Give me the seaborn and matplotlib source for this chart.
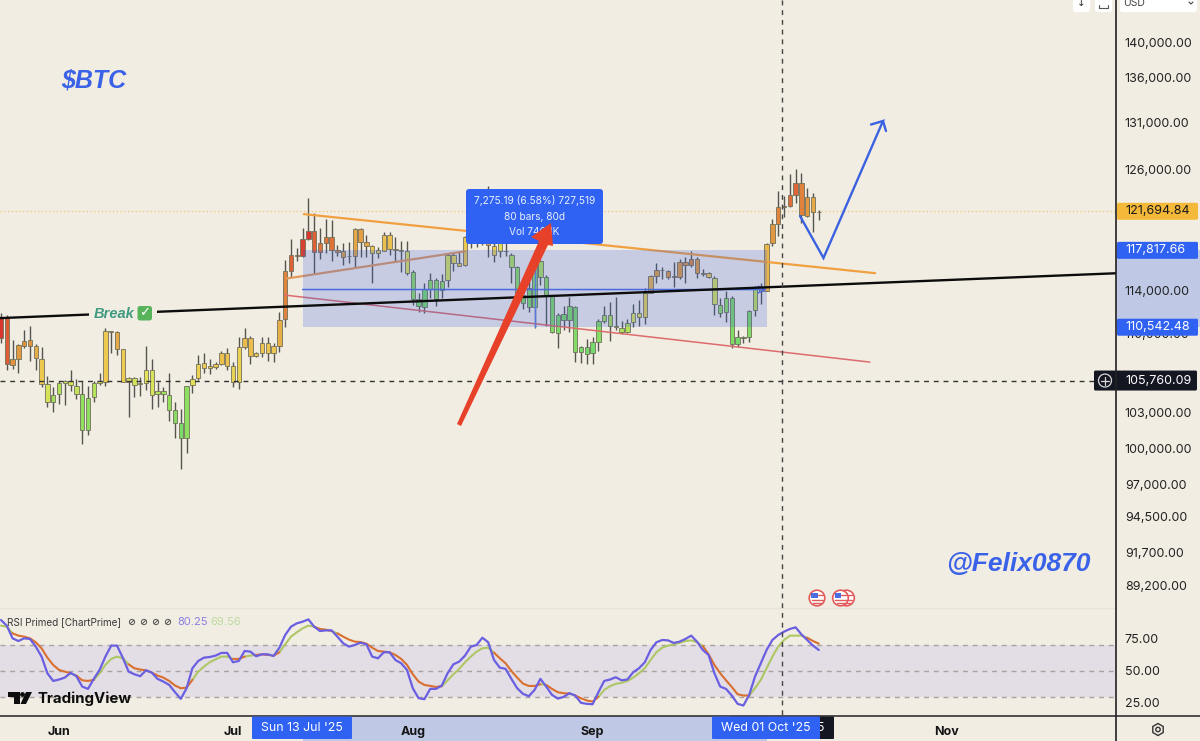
import numpy as np
import pandas as pd
import seaborn as sns
import matplotlib
matplotlib.use('Agg')
import matplotlib.pyplot as plt
from matplotlib.colors import LinearSegmentedColormap
from matplotlib.patches import Rectangle, FancyBboxPatch, Polygon, Circle, RegularPolygon
from matplotlib.ticker import NullFormatter

START_DATE = '2025-05-22'
wick_high = [
    111810, 111660, 109370, 109010, 110280, 110650, 109040, 108770, 106150, 105220,
    105740, 105800, 106680, 105860, 105740, 105280, 105740, 106390, 110430, 110190,
    110160, 108530, 106040, 106090, 106090, 108830, 107630, 105650, 105160, 106390,
    103890, 103260, 105310, 106210, 108020, 108170, 107630, 107420, 108410, 108620,
    107420, 109670, 110460, 109730, 108290, 109610, 109610, 109070, 111930, 116870,
    118980, 118000, 119980, 123030, 121480, 119980, 120880, 120810, 118330, 118490,
    118650, 119980, 119980, 119320, 118330, 118170, 119650, 119650, 119150, 118750,
    118750, 115960, 113690, 114690, 115580, 115110, 115520, 117520, 117680, 117680,
    119220, 120140, 121480, 122470, 124230, 119150, 120140, 119810, 117580, 116290,
    114320, 115110, 117680, 116870, 115430, 113530, 111820, 112490, 113370, 112490,
    108830, 109430, 109670, 111260, 112500, 112900, 113310, 111080, 111260, 112670,
    113060, 114160, 115390, 116550, 116160, 115960, 116680, 116940, 117130, 117770,
    117130, 116030, 115740, 115330, 113220, 113940, 113440, 110280, 109730, 112120,
    114430, 114700, 118490, 120880, 123790, 123240, 125470, 126040, 125580, 124030,
    123520, 121810,
]
body_high = [
    111510, 111510, 107630, 108890, 109310, 109340, 108830, 107660, 105450, 104500,
    105570, 105740, 105740, 105250, 104550, 104260, 105540, 105680, 110160, 110160,
    110100, 108530, 105950, 105970, 105510, 106680, 106680, 104820, 104820, 104520,
    103200, 102070, 105310, 105920, 107240, 107270, 107010, 107180, 108230, 108230,
    107040, 108770, 109520, 109520, 108200, 109070, 109070, 108830, 111200, 115810,
    117350, 117380, 118890, 119680, 119680, 118490, 119120, 119120, 117900, 117710,
    117290, 119910, 119910, 118620, 118230, 117810, 119320, 119320, 117940, 117840,
    117710, 115680, 113120, 114060, 114950, 114950, 114890, 117350, 117320, 116550,
    119150, 119810, 120480, 121140, 120650, 118230, 118490, 117780, 117320, 116160,
    113530, 114160, 116710, 116770, 115270, 113440, 111670, 111730, 112460, 112430,
    108710, 108710, 109160, 111110, 111630, 111660, 110680, 110490, 110950, 111870,
    111870, 113690, 115330, 115900, 115960, 115840, 115330, 116680, 116680, 116940,
    116940, 115580, 115580, 115170, 112560, 113220, 113220, 109610, 109640, 112060,
    114310, 114320, 118460, 120410, 122080, 122220, 123300, 124550, 124550, 123170,
    123170, 121640,
]
body_low = [
    109580, 107220, 107150, 107630, 108860, 108830, 107720, 105480, 103920, 103920,
    104550, 105570, 105340, 104550, 101500, 101500, 104310, 105570, 105650, 110130,
    108530, 105650, 105620, 105400, 105450, 105510, 104520, 104550, 104580, 103200,
    102070, 100880, 100880, 105370, 106010, 106830, 106830, 106980, 107220, 107070,
    105620, 105620, 108770, 107960, 107930, 108170, 108170, 108200, 108860, 111260,
    115830, 117280, 117260, 118890, 117650, 117650, 118560, 117870, 117680, 117190,
    117220, 117290, 118650, 118230, 117520, 117550, 117780, 117940, 117840, 117750,
    115650, 113150, 112490, 112430, 114100, 113150, 114000, 114920, 116550, 116320,
    116350, 118650, 118820, 118980, 118330, 117350, 117750, 117710, 116160, 113690,
    112750, 112430, 112430, 115270, 113470, 110060, 110030, 111200, 111200, 108290,
    108290, 108110, 108170, 109190, 111140, 110680, 110520, 110100, 110070, 111020,
    111440, 111440, 113750, 115360, 115900, 115210, 115270, 115270, 116360, 116360,
    115580, 115520, 115210, 112650, 111870, 111910, 108980, 108980, 109580, 109610,
    112120, 113880, 113940, 118490, 120440, 122150, 122220, 123380, 121310, 121210,
    121580, 121580,
]
wick_low = [
    109130, 106680, 106740, 106450, 108620, 107450, 106680, 105220, 103490, 103030,
    103720, 103600, 104820, 104120, 100320, 101080, 103900, 105340, 105280, 108230,
    107990, 105620, 102630, 104310, 104420, 104930, 103310, 103430, 103900, 102290,
    100860, 98240, 99610, 104640, 105800, 106450, 106330, 106800, 107100, 106680,
    105220, 105050, 108530, 107220, 107810, 107810, 107450, 107390, 108290, 110530,
    115200, 116800, 117130, 118820, 115570, 117000, 117580, 116810, 117260, 116390,
    116550, 116160, 117190, 117130, 114630, 117070, 117750, 117350, 116710, 115740,
    115460, 112590, 111970, 111880, 113220, 112490, 113220, 114250, 115810, 116290,
    116290, 118000, 118170, 118330, 117130, 116710, 117190, 117260, 114630, 112750,
    112180, 111970, 110430, 114470, 110680, 110030, 108620, 110280, 110120, 107420,
    107330, 107210, 107210, 108410, 110890, 109310, 110280, 109920, 110040, 110590,
    110650, 110830, 113690, 114630, 115010, 115080, 114320, 115010, 114700, 116160,
    115110, 115330, 115140, 111660, 111500, 111020, 108620, 108710, 109130, 109190,
    111560, 112680, 113880, 118230, 119210, 121080, 122080, 122560, 120480, 121150,
    119640, 120810,
]

# RSI panel, one value per candle
rsi_values = [
    89.8, 85.4, 75.5, 73.4, 75.5, 75.0, 69.0, 61.2, 48.2, 42.2, 43.3, 44.8, 48.5, 45.9, 37.8, 36.0,
    43.8, 50.8, 61.2, 69.8, 69.8, 60.4, 49.5, 47.4, 45.9, 50.5, 48.7, 43.8, 41.7, 39.1, 33.4, 28.2,
    36.5, 52.1, 57.8, 60.4, 60.9, 62.0, 64.1, 64.1, 56.8, 57.8, 65.6, 65.1, 61.5, 63.0, 63.0, 61.7,
    68.2, 78.1, 84.6, 87.2, 88.5, 90.3, 84.6, 81.2, 81.7, 81.7, 76.8, 71.6, 69.0, 70.3, 72.1, 70.8,
    61.2, 59.9, 64.6, 64.6, 58.6, 56.0, 50.8, 36.5, 28.7,
    27.9, 36.0, 36.0, 38.6, 48.2, 55.2, 57.3, 62.0, 69.0, 70.3, 76.0, 72.4, 58.6, 52.6, 51.6, 43.8,
    36.5, 32.1, 30.3, 35.2, 43.8, 37.8, 31.3, 28.4, 29.7, 32.6, 30.8, 25.1, 24.3, 24.0, 33.4, 42.2,
    43.3, 45.1, 42.7, 43.3, 49.0, 52.1, 56.8, 66.4, 72.4, 74.2, 73.9, 71.9, 72.9, 75.0, 77.6, 72.9,
    66.4, 62.5, 48.2, 37.8, 36.0, 30.8, 24.3, 23.0, 31.3, 45.6, 56.0, 66.4, 74.2, 78.1, 80.7, 82.8,
    84.1, 78.6, 74.2, 69.8, 66.4,
]
signal_values = [
    85.4, 84.6, 79.4, 77.6, 76.8, 75.5, 72.4, 67.7, 60.4, 54.7, 50.8, 49.5, 48.2, 46.4, 42.7, 42.2,
    43.0, 48.2, 54.7, 59.4, 61.2, 59.9, 55.2, 52.1, 51.1, 50.5, 48.7, 46.4, 44.8, 42.2, 38.6, 36.5,
    37.0, 43.0, 49.5, 53.4, 56.8, 59.1, 61.2, 61.2, 59.4, 59.4, 61.2, 62.0, 62.5, 63.0, 62.5, 62.0,
    64.6, 70.8, 76.8, 80.2, 83.3, 85.4, 84.6, 82.8, 82.3, 81.2, 79.4, 76.8, 74.5, 72.9, 72.6, 71.3,
    68.2, 65.6, 65.1, 64.6, 62.5, 59.4, 54.7, 47.4, 41.7,
    39.1, 38.3, 37.5, 38.1, 42.7, 47.4, 51.6, 56.8, 61.2, 65.1, 67.7, 68.2, 64.3, 59.9, 56.0, 50.0,
    44.8, 40.1, 38.3, 38.3, 39.6, 39.1, 36.0, 33.4, 32.6, 32.3, 30.8, 28.7, 26.9, 26.1, 29.7, 35.2,
    38.1, 39.9, 40.7, 42.2, 44.8, 48.2, 52.1, 58.6, 64.6, 68.2, 69.8, 70.8, 71.9, 73.4, 73.9, 72.4,
    69.5, 63.0, 54.7, 48.2, 42.7, 37.5, 31.8, 30.8, 30.8, 36.5, 43.0, 52.1, 61.2, 69.0, 74.2, 77.6,
    77.6, 77.6, 76.0, 73.4, 71.3,
]

price_ticks = [140000, 136000, 131000, 126000, 114000, 110000, 103000, 100000, 97000, 94500, 91700, 89200]
rsi_ticks = [75, 50, 25]
month_labels = ['Jun', 'Jul', 'Aug', 'Sep', 'Nov']
month_dates = ['2025-06-01', '2025-07-01', '2025-08-01', '2025-09-01', '2025-11-01']

last_price = 121694.84
range_top = 117817.66
range_bottom = 110542.48
cross_price = 105760.09
legend_rsi = 80.25
legend_signal = 69.56

BG = '#f2ede3'
BLUE = '#2f62f2'
PEN = '#3a62e0'
W, H = 1200, 741
TICK_SIZE = 9.0

sns.set_theme(style='white', rc={'axes.facecolor': BG, 'figure.facecolor': BG})
plt.rcParams['font.family'] = ['Inter', 'DejaVu Sans']

start = pd.Timestamp(START_DATE)


def day(date):
    return (pd.Timestamp(date) - start).days


rsi = np.array(rsi_values)
signal = np.array(signal_values)
bars = np.arange(len(wick_high))

fig = plt.figure(figsize=(W / 100, H / 100), dpi=100)

# background strip on the axes margins
under = fig.add_axes([0, 0, 1, 1], zorder=0)
under.set_xlim(0, W)
under.set_ylim(H, 0)
under.set_axis_off()

ax = fig.add_axes([0, (H - 608) / H, 1116 / W, 608 / H], zorder=1)
ax_rsi = fig.add_axes([0, (H - 716) / H, 1116 / W, 108 / H], zorder=1)
over = fig.add_axes([0, 0, 1, 1], zorder=3)
over.set_xlim(0, W)
over.set_ylim(H, 0)
over.set_axis_off()
over.patch.set_alpha(0)

xlim = (-0.17, 192.24)

# price panel
ax.set_yscale('log')
ax.set_xlim(*xlim)
ax.set_ylim(87580, 145000)

# candle colour follows the RSI level
cmap = LinearSegmentedColormap.from_list(
    'rsi_candle',
    [(0.0, '#74da6c'), (0.23, '#96e05c'), (0.38, '#e2e45a'), (0.58, '#eec650'),
     (0.78, '#e0913f'), (0.9, '#df6a38'), (1.0, '#d8362e')])
candle_colors = [cmap(np.clip((v - 25) / 65, 0, 1)) for v in rsi]

ax.vlines(bars, wick_low, wick_high, color='#55554f', lw=1, zorder=2)
ax.bar(bars, np.array(body_high) - np.array(body_low), bottom=body_low, width=0.76,
       color=candle_colors, edgecolor='#72705a', linewidth=0.6, zorder=2.5)

# drawings on the chart
ax.axhline(last_price, color='#f0c070', lw=0.9, ls=(0, (1, 2)), zorder=1)
ax.plot([52.2, 150.7], [121410, 115610], color='#f0a040', lw=1.6, zorder=3)
ax.plot([49.3, 80.0], [115100, 117720], color='#e09a60', lw=1.6, zorder=3)
ax.plot([48.9, 149.8], [113530, 107390], color='#dc6c6c', lw=1.1, zorder=3)
ax.fill_between([52, 132], range_bottom, range_top, color='#2f5ae0', alpha=0.22, lw=0, zorder=4)
ax.plot([92, 92], [range_bottom, range_top], color='#5a78e0', lw=1, zorder=4)
ax.annotate('', xy=(132, 114050), xytext=(52, 114050), zorder=4,
            arrowprops=dict(arrowstyle='->', color='#4a6ae0', lw=1.1, shrinkA=0, shrinkB=0))
ax.plot(xlim, [111380, 115600], color='#0c0c0c', lw=1.7, zorder=5)
ax.axhline(cross_price, color='#333333', lw=1, ls=(0, (3.5, 3.5)), zorder=5)

ax.yaxis.tick_right()
ax.set_yticks(price_ticks)
ax.set_yticklabels([f'{p:,.2f}' for p in price_ticks])
ax.yaxis.set_minor_formatter(NullFormatter())
ax.minorticks_off()
ax.tick_params(axis='y', length=0, pad=6.3, labelsize=TICK_SIZE, labelcolor='#222222')
ax.set_xticks([])
ax.set_xlabel('')
ax.set_ylabel('')
for spine in ax.spines.values():
    spine.set_visible(False)

# RSI panel
ax_rsi.set_xlim(*xlim)
ax_rsi.set_ylim(14.8, 99.2)
ax_rsi.axhspan(30, 70, color='#e3dde5', lw=0, zorder=0)
for level in [30, 50, 70]:
    ax_rsi.axhline(level, color='#a8a2a0', lw=1, ls=(0, (3.5, 3.5)), zorder=1)

sns.lineplot(x=bars, y=rsi, color='#6a5fe0', lw=1.6, ax=ax_rsi, zorder=3)

# signal line goes green while RSI is above it, orange when below
rows = []
run = 0
for i in bars:
    side = 'above' if rsi[i] > signal[i] else 'below'
    if i > 0 and (rsi[i] > signal[i]) != (rsi[i - 1] > signal[i - 1]):
        prev = 'above' if rsi[i - 1] > signal[i - 1] else 'below'
        rows.append((i, signal[i], run, prev))
        run += 1
    rows.append((i, signal[i], run, side))
signal_df = pd.DataFrame(rows, columns=['bar', 'value', 'run', 'side'])
sns.lineplot(data=signal_df, x='bar', y='value', hue='side', units='run', estimator=None,
             palette={'above': '#aec765', 'below': '#d9702f'}, lw=1.5, legend=False,
             ax=ax_rsi, zorder=2.5)

ax_rsi.yaxis.tick_right()
ax_rsi.set_yticks(rsi_ticks)
ax_rsi.set_yticklabels([f'{v:.2f}' for v in rsi_ticks])
ax_rsi.tick_params(axis='y', length=0, pad=6.3, labelsize=TICK_SIZE, labelcolor='#222222')
ax_rsi.set_xticks([day(d) for d in month_dates])
ax_rsi.set_xticklabels(month_labels, fontweight='bold')
ax_rsi.tick_params(axis='x', length=0, pad=7, labelsize=TICK_SIZE, labelcolor='#151515')
ax_rsi.set_xlabel('')
ax_rsi.set_ylabel('')
for spine in ax_rsi.spines.values():
    spine.set_visible(False)


def price_y(price):
    return H - ax.transData.transform((0, price))[1]


def bar_x(bar):
    return ax.transData.transform((bar, 100000))[0]


# margin highlights of the selected range
under.add_patch(Rectangle((bar_x(52), 716), bar_x(132) - bar_x(52), 25, color='#bfc9e6', lw=0))
under.add_patch(Rectangle((1116, price_y(range_top)), 84, price_y(range_bottom) - price_y(range_top),
                          color='#bfc9e6', lw=0))

# frame lines
over.plot([0, 1116], [608, 608], color='#e8e3d9', lw=1)
over.plot([0, W], [716, 716], color='#222222', lw=1.1)
over.plot([1116, 1116], [0, H], color='#222222', lw=1.2)
over.plot([782, 782], [0, 716], color='#444444', lw=1, ls=(0, (3.5, 3.5)))


def value_label(y, text, face, color, x0=1117, x1=1198):
    over.add_patch(FancyBboxPatch((x0, y - 8.5), x1 - x0, 17, boxstyle='round,pad=0,rounding_size=1.5',
                                  fc=face, ec='none'))
    over.text(1125, y, text, color=color, fontsize=TICK_SIZE, ha='left', va='center')


value_label(price_y(last_price), f'{last_price:,.2f}', '#f5b93a', '#1a1a1a')
value_label(price_y(range_top), f'{range_top:,.2f}', BLUE, 'white')
value_label(price_y(range_bottom), f'{range_bottom:,.2f}', BLUE, 'white')
cross_y = price_y(cross_price)
over.add_patch(FancyBboxPatch((1094, cross_y - 10), 103, 20, boxstyle='round,pad=0,rounding_size=1.5',
                              fc='#141722', ec='none'))
over.text(1125, cross_y, f'{cross_price:,.2f}', color='white', fontsize=TICK_SIZE, ha='left', va='center')
over.add_patch(Circle((1105, cross_y), 6.5, fc='none', ec='#d8d8d8', lw=0.9))
over.plot([1101, 1109], [cross_y, cross_y], color='#d8d8d8', lw=0.9)
over.plot([1105, 1105], [cross_y - 4, cross_y + 4], color='#d8d8d8', lw=0.9)

# big titles
over.text(61, 80, '$BTC', color='#3a62e8', fontsize=18, fontweight='bold', style='italic',
          family='Liberation Sans', ha='left', va='center')
over.text(946, 564, '@Felix0870', color='#3a62e8', fontsize=19, fontweight='bold', style='italic',
          family='Liberation Sans', ha='left', va='center')

# break label sits on the black line
over.add_patch(Rectangle((89, 305), 68, 16, fc=BG, ec='none'))
over.text(94, 313.5, 'Break', color='#3f9a82', fontsize=10.5, fontweight='bold', style='italic',
          family='Liberation Sans', ha='left', va='center')
over.add_patch(FancyBboxPatch((137.5, 306), 14.5, 14.5, boxstyle='round,pad=0,rounding_size=2.5',
                              fc='#58b45a', ec='none'))
over.text(144.7, 313, '\u2713', color='white', fontsize=9.5, fontweight='bold', family='DejaVu Sans',
          ha='center', va='center')

# measure tooltip
over.add_patch(FancyBboxPatch((466, 189), 137, 55, boxstyle='round,pad=0,rounding_size=3',
                              fc=BLUE, ec='none'))
over.text(534.5, 201, '7,275.19 (6.58%) 727,519', color='#e8eeff', fontsize=7.3, ha='center', va='center')
over.text(534.5, 216.5, '80 bars, 80d', color='#e8eeff', fontsize=7.3, ha='center', va='center')
over.text(534.5, 232, 'Vol 746.1K', color='#e8eeff', fontsize=7.3, ha='center', va='center')

# red hand drawn arrow, above the tooltip
over.add_patch(Polygon([(457, 424), (461, 426), (548, 245), (553, 246), (551, 223), (531, 237), (539, 241)],
                       closed=True, fc='#e8412a', ec='none', zorder=5))

# blue projection
over.plot([800, 823.5, 883, 871], [216, 258, 121, 124.5], color=PEN, lw=1.7, solid_joinstyle='miter')
over.plot([883, 886], [121, 131], color=PEN, lw=1.7)

# RSI legend
over.text(7, 622, 'RSI Primed [ChartPrime]', color='#3a3a3a', fontsize=7.2, ha='left', va='center')
for x_icon in [132, 144, 156, 168]:
    over.add_patch(Circle((x_icon, 622), 2.6, fc='none', ec='#555555', lw=0.7))
    over.plot([x_icon - 1.8, x_icon + 1.8], [623.8, 620.2], color='#555555', lw=0.7)
over.text(177, 622, f'{legend_rsi:.2f}', color='#8a7fe0', fontsize=8, ha='left', va='center')
over.text(210, 622, f'{legend_signal:.2f}', color='#bcdca0', fontsize=8, ha='left', va='center')

# TradingView logo
over.add_patch(Polygon([(8, 692), (20, 692), (20, 704), (14, 704), (14, 697), (8, 697)], fc='#0d0d0d', ec='none'))
over.add_patch(Circle((22.5, 694.5), 2.4, fc='#0d0d0d', ec='none'))
over.add_patch(Polygon([(26, 692), (32, 692), (26, 704), (20.5, 704)], fc='#0d0d0d', ec='none'))
over.text(38, 698.5, 'TradingView', color='#0d0d0d', fontsize=10.8, fontweight='bold', ha='left', va='center')


# date labels under the axis, later ones cover earlier ones
def date_label(cx, x0, x1, text, face, z):
    over.add_patch(FancyBboxPatch((x0, 716.5), x1 - x0, 22.5, boxstyle='round,pad=0,rounding_size=1',
                                  fc=face, ec='none', zorder=z))
    over.text(cx, 728, text, color='white', fontsize=8.9, ha='center', va='center', zorder=z + 0.1)


date_label(782, 730, 834, "Sat 04 Oct '25", '#141722', 6)
date_label(302, 252, 352, "Sun 13 Jul '25", BLUE, 7)
date_label(766, 712, 820, "Wed 01 Oct '25", BLUE, 7)

# economic event flags
for z, cx in enumerate([846.5, 840.5, 817]):
    z_base = 4 + z * 0.1
    over.add_patch(Circle((cx, 598), 7.8, fc='white', ec='#e25a5a', lw=1.2, zorder=z_base))
    over.add_patch(Rectangle((cx - 6, 592.5), 6.5, 5.5, fc='#4a6ee0', ec='none', zorder=z_base + 0.01))
    over.plot([cx + 0.5, cx + 5.5], [595, 595], color='#e25a5a', lw=1, zorder=z_base + 0.01)
    over.plot([cx - 5.5, cx + 5.5], [600, 600], color='#e25a5a', lw=1, zorder=z_base + 0.01)
    over.plot([cx - 4, cx + 4], [603, 603], color='#e25a5a', lw=1, zorder=z_base + 0.01)

# toolbar stubs in the top right corner
for x0, x1 in [(1073, 1090), (1095, 1112), (1120, 1197)]:
    over.add_patch(FancyBboxPatch((x0, -6), x1 - x0, 18, boxstyle='round,pad=0,rounding_size=2.5',
                                  fc='white', ec='none'))
over.text(1081.5, 3, '\u2193', color='#333333', fontsize=7.5, family='DejaVu Sans', ha='center', va='center')
over.text(1123, 3, 'USD', color='#444444', fontsize=7.5, ha='left', va='center')
over.plot([1189, 1191, 1193], [2, 4, 2], color='#444444', lw=0.8)
over.plot([1099, 1099, 1108, 1108], [5, 8, 8, 5], color='#555555', lw=0.8)

# settings gear
over.add_patch(RegularPolygon((1158, 729.5), 6, radius=6, fc='none', ec='#333333', lw=1))
over.add_patch(Circle((1158, 729.5), 2.2, fc='none', ec='#333333', lw=1))

fig.savefig('out.png', dpi=100, facecolor=BG)
